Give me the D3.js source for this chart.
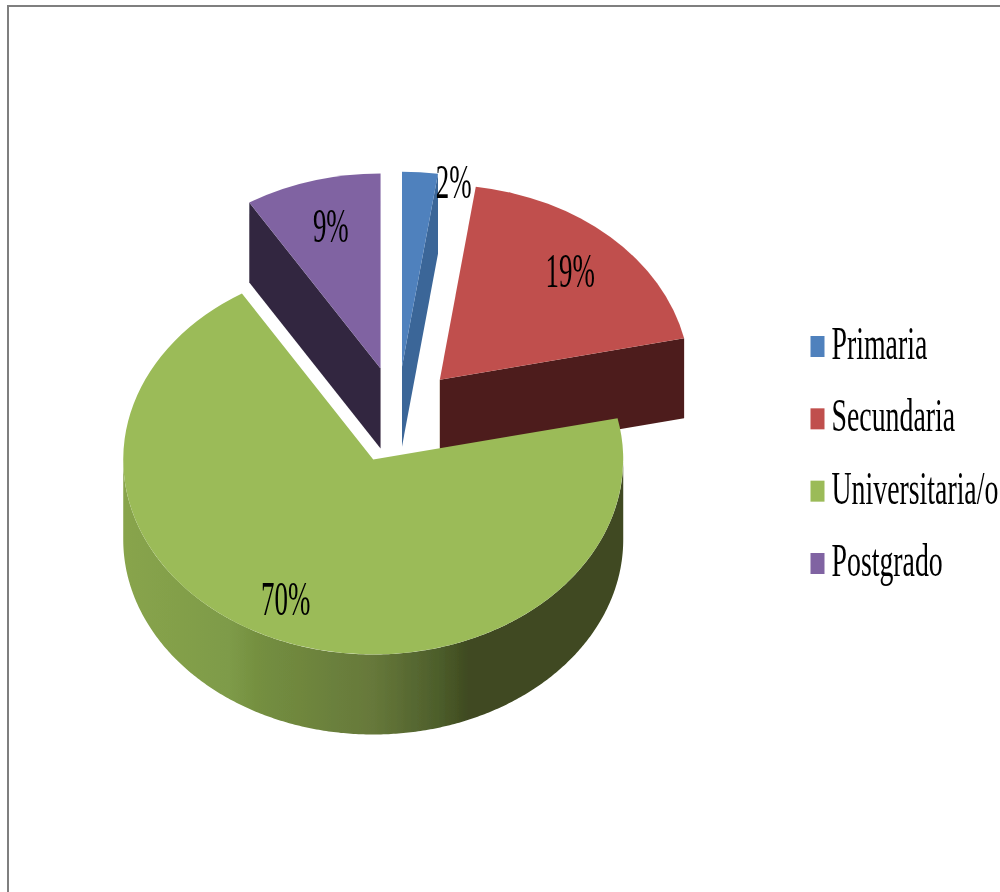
<!DOCTYPE html>
<html>
<head>
<meta charset="utf-8">
<script src="https://cdn.jsdelivr.net/npm/d3@7"></script>
<style>
  html, body { margin: 0; padding: 0; background: #fff; overflow: hidden; }
  svg { display: block; }
  text { font-family: "Liberation Serif", serif; fill: #000; }
</style>
</head>
<body>
<div id="chart"></div>
<script>
// values (labels round them to whole percents)
const categories = ['Primaria', 'Secundaria', 'Universitaria/o', 'Postgrado'];
const values = [2.3, 19.3, 69.6, 8.8];
const topColors = ['#4f81bd', '#c0504d', '#9bbb59', '#8064a2'];
const sideColors = ['#3b6698', '#4d1d1b', '#3f4a20', '#322840'];

const width = 1000, height = 892;
const cx = 397.5, cy = 415;     // pie centre before explosion
const rx = 250, tilt = 0.78;    // fake 3d: circle squashed in y
const depth = 80, explode = 62;

const svg = d3.select('#chart').append('svg').attr('width', width).attr('height', height);

// the source is a slightly soft screenshot
const defs = svg.append('defs');
defs.append('filter').attr('id', 'soft').attr('x', '-5%').attr('y', '-5%').attr('width', '110%').attr('height', '110%')
	.append('feGaussianBlur').attr('stdDeviation', 0.5);

const root = svg.append('g').attr('filter', 'url(#soft)');

// frame, right and bottom sides fall outside the page
root.append('rect').attr('x', 8).attr('y', 6).attr('width', 1200).attr('height', 1200)
	.attr('fill', 'none').attr('stroke', '#7f7f7f').attr('stroke-width', 2);

// wall shading of the big slice
const grad = defs.append('linearGradient').attr('id', 'wall')
	.attr('gradientUnits', 'userSpaceOnUse').attr('x1', 124).attr('x2', 623).attr('y1', 0).attr('y2', 0);
[[0, '#88a44c'], [0.21, '#7e9b48'], [0.27, '#748f40'], [0.5, '#66783a'], [0.63, '#4d5e2b'], [0.69, '#3f4a20'], [1, '#3f4a20']]
	.forEach(([o, c]) => grad.append('stop').attr('offset', o).attr('stop-color', c));

const pie = d3.pie().sort(null).value(d => d);
const slices = pie(values).map((s, i) => {
	const mid = (s.startAngle + s.endAngle) / 2;
	return {
		...s, i, mid,
		ax: cx + Math.sin(mid) * explode,
		ay: cy - Math.cos(mid) * explode * tilt
	};
});

const arc = d3.arc().innerRadius(0).outerRadius(rx);
const line = d3.line();
const rimPoint = (s, a) => [s.ax + Math.sin(a) * rx, s.ay - Math.cos(a) * rx * tilt];

// back to front
const order = [3, 0, 1, 2];
order.forEach(i => {
	const s = slices[i];
	const g = root.append('g');

	// cut faces that look toward the viewer
	[[s.startAngle, -1], [s.endAngle, 1]].forEach(([a, side]) => {
		if (side * Math.sin(a) <= 0.001) return;
		const p = rimPoint(s, a);
		g.append('path')
			.attr('d', line([[s.ax, s.ay], p, [p[0], p[1] + depth], [s.ax, s.ay + depth]]) + 'Z')
			.attr('fill', sideColors[i]);
	});

	// outer wall, only the front half of the rim shows
	const a0 = Math.max(s.startAngle, Math.PI / 2), a1 = Math.min(s.endAngle, Math.PI * 1.5);
	if (a1 > a0) {
		const rim = d3.range(a0, a1, 0.01).concat(a1).map(a => rimPoint(s, a));
		const low = rim.map(p => [p[0], p[1] + depth]).reverse();
		g.append('path').attr('d', line(rim.concat(low)) + 'Z').attr('fill', 'url(#wall)');
	}

	// top face
	g.append('path')
		.attr('transform', `translate(${s.ax},${s.ay}) scale(1,${tilt})`)
		.attr('d', arc(s))
		.attr('fill', topColors[i]);
});

// data labels: centroid-ish spot, then hand nudged like in the original
const labelNudge = [[39, -49], [11, -10], [-19, 13], [-2, -12]];
slices.forEach(s => {
	const [x, y] = [s.ax + Math.sin(s.mid) * rx * 0.7, s.ay - Math.cos(s.mid) * rx * 0.7 * tilt];
	root.append('text')
		.attr('transform', `translate(${x + labelNudge[s.i][0]},${y + labelNudge[s.i][1]}) scale(0.56,1)`)
		.attr('text-anchor', 'middle').attr('dominant-baseline', 'central')
		.attr('font-size', 48)
		.text(Math.round(s.value) + '%');
});

// legend
const legendY = d3.scalePoint().domain(categories).range([359, 576]);
categories.forEach((c, i) => {
	const y = legendY(c);
	root.append('rect').attr('x', 810.5).attr('y', y - 23).attr('width', 14).attr('height', 21).attr('fill', topColors[i]);
	root.append('text')
		.attr('transform', `translate(831.5,${y}) scale(0.605,1)`)
		.attr('font-size', 46)
		.text(c);
});
</script>
</body>
</html>
